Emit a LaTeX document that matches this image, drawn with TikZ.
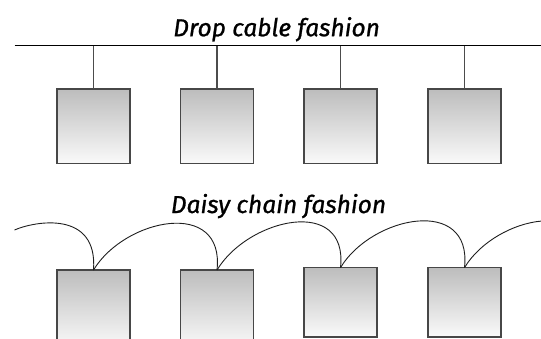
\documentclass[tikz,border=0pt]{standalone}
\usepackage{fontspec}
\newfontfamily\titlefont{Fira Sans}[FakeBold=1]
\begin{document}
\begin{tikzpicture}[x=1pt,y=-1pt,
  devbox/.style={draw=black!72,line width=1.2pt,top color=black!26,bottom color=black!2,
    minimum width=73pt,inner sep=0pt,outer sep=0pt},
  title/.style={font=\titlefont\fontsize{24.5}{28}\selectfont\itshape,anchor=base,inner sep=0pt},
  drop/.style={draw=black!70,line width=1.1pt},
  cable/.style={draw=black!88,line width=0.9pt}]
\useasboundingbox (0,0) rectangle (541,338);
\clip (0,0) rectangle (541,338);
% top: drop cable
\node[title] (t) at (276.6,36.2) {Drop cable fashion};
\coordinate (busL) at (14.5,45.5);
\coordinate (busR) at (541,45.5);
\draw[line width=1pt] (busL) -- (busR);
\foreach \i/\x in {1/93.5,2/217,3/340.5,4/464.5}{
  \node[devbox,minimum height=74.8pt] (a\i) at (\x,126.4) {};
  \draw[drop] (a\i.north) -- (a\i.north |- busL);
}
% bottom: daisy chain
\node[title] (d) at (278.5,213) {Daisy chain fashion};
\node[devbox,minimum height=78pt] (b1) at (93.5,309) {};
\node[devbox,minimum height=78pt] (b2) at (217,309) {};
\node[devbox,minimum height=69.4pt] (b3) at (340.5,302.3) {};
\node[devbox,minimum height=69.4pt] (b4) at (464.5,302.3) {};
\coordinate (cL) at (14.5,230);
\coordinate (cR) at (588,267.6);
\draw[cable] (cL) .. controls (35,221) and (98,210) .. (b1.north);
\draw[cable] (b1.north) .. controls +(31.5,-52) and +(8,-72) .. (b2.north);
\draw[cable] (b2.north) .. controls +(31.5,-52) and +(8,-72) .. (b3.north);
\draw[cable] (b3.north) .. controls +(31.5,-52) and +(8,-72) .. (b4.north);
\draw[cable] (b4.north) .. controls +(31.5,-52) and +(8,-72) .. (cR);
\end{tikzpicture}
\end{document}
